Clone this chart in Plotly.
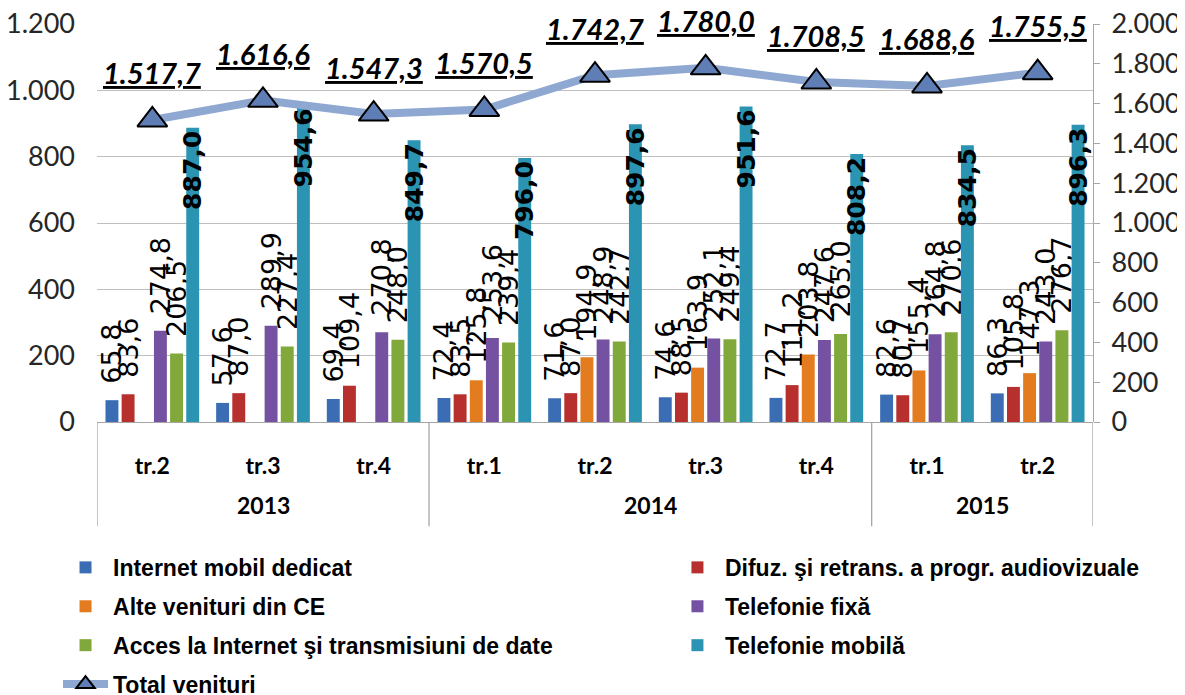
import plotly.graph_objects as go

years = ["2013", "2013", "2013", "2014", "2014", "2014", "2014", "2015", "2015"]
quarters = ["tr.2", "tr.3", "tr.4", "tr.1", "tr.2", "tr.3", "tr.4", "tr.1", "tr.2"]

internet_mobil = [65.8, 57.6, 69.4, 72.4, 71.6, 74.6, 72.7, 82.6, 86.3]
difuz = [83.6, 87.0, 109.4, 83.5, 87.0, 88.5, 111.2, 80.7, 105.8]
alte_venituri = [None, None, None, 125.8, 194.9, 163.9, 203.8, 155.4, 147.3]
telefonie_fixa = [274.8, 289.9, 270.8, 253.6, 248.9, 252.1, 247.6, 264.8, 243.0]
acces_internet = [206.5, 227.4, 248.0, 239.4, 242.7, 249.4, 265.0, 270.6, 276.7]
telefonie_mobila = [887.0, 954.6, 849.7, 796.0, 897.6, 951.6, 808.2, 834.5, 896.3]
total_venituri = [1517.7, 1616.6, 1547.3, 1570.5, 1742.7, 1780.0, 1708.5, 1688.6, 1755.5]

series_names = [
    "Internet mobil dedicat",
    "Difuz. şi retrans. a progr. audiovizuale",
    "Alte venituri din CE",
    "Telefonie fixă",
    "Acces la Internet şi transmisiuni de date",
    "Telefonie mobilă",
]
series_values = [internet_mobil, difuz, alte_venituri, telefonie_fixa, acces_internet, telefonie_mobila]
series_colors = ["#3B6DB4", "#B7302E", "#E27C1F", "#7451A1", "#80A83B", "#2A94B2"]
# legend column for each series (two-column legend as in the original)
series_legend = ["legend", "legend2", "legend", "legend2", "legend", "legend2"]


def ro(v):
    if v is None:
        return ""
    s = f"{v:,.1f}"
    return s.replace(",", "X").replace(".", ",").replace("X", ".")


keys = [f"{y} {q}" for y, q in zip(years, quarters)]

fig = go.Figure()
for name, vals, col, leg in zip(series_names, series_values, series_colors, series_legend):
    is_mob = name == "Telefonie mobilă"
    fig.add_trace(go.Bar(
        x=keys, y=vals, name=name, legend=leg, legendgroup=name,
        marker=dict(color=col, line=dict(width=0)),
        text=[ro(v) if is_mob else ("\u2002" + ro(v) if v is not None else "") for v in vals],
        textposition="inside" if is_mob else "outside",
        insidetextanchor="end",
        textangle=-90,
        constraintext="none",
        cliponaxis=False,
        insidetextfont=dict(family="DejaVu Sans", size=25, color="black", weight="bold"),
        outsidetextfont=dict(family="DejaVu Sans", size=27, color="black"),
        hoverinfo="skip",
    ))

fig.add_trace(go.Scatter(
    x=keys, y=total_venituri, name="Total venituri", yaxis="y2", legend="legend",
    legendgroup="Total venituri",
    mode="lines+markers",
    line=dict(color="#8EA8D2", width=8),
    marker=dict(symbol="triangle-up", size=26, color="#5F7EB6", line=dict(color="black", width=2)),
))

for k, v in zip(keys, total_venituri):
    fig.add_annotation(
        x=k, y=v, yref="y2", text=ro(v), showarrow=False, yshift=47,
        font=dict(family="Lato", size=29, color="black", weight="bold", style="italic",
                  lineposition="under"),
    )

# year group labels and dividers
groups = []
for i, y in enumerate(years):
    if not groups or groups[-1][0] != y:
        groups.append([y, i, i])
    else:
        groups[-1][2] = i
div_color = "#A6A6A6"
for y, a, b in groups:
    fig.add_annotation(x=(a + b) / 2, y=-0.209, yref="paper", yanchor="middle", text=y,
                       showarrow=False,
                       font=dict(family="Lato", size=23, color="black", weight="bold"))
    fig.add_shape(type="line", xref="x", yref="paper", x0=a - 0.5, x1=a - 0.5, y0=0, y1=-0.262,
                  line=dict(color=div_color, width=1.3))
fig.add_shape(type="line", xref="x", yref="paper", x0=len(keys) - 0.5, x1=len(keys) - 0.5,
              y0=0, y1=-0.262, line=dict(color=div_color, width=1.3))

legend_common = dict(
    orientation="v", xref="container", yref="container",
    xanchor="left", yanchor="top",
    font=dict(family="Liberation Sans", size=23, color="black", weight="bold"),
    itemwidth=45, traceorder="grouped", tracegroupgap=6,
    bgcolor="rgba(0,0,0,0)",
)

fig.update_layout(
    width=1177, height=687,
    margin=dict(l=89, r=92, t=16, b=273, autoexpand=False),
    paper_bgcolor="white", plot_bgcolor="white",
    barmode="group", bargap=0.124, bargroupgap=0.2,
    separators=",.",
    showlegend=True,
    legend=dict(x=0.0425, y=0.217, **legend_common),
    legend2=dict(x=0.5624, y=0.217, **legend_common),
    xaxis=dict(
        type="category", tickvals=keys, ticktext=quarters,
        tickfont=dict(family="Lato", size=23, color="black", weight="bold"),
        showgrid=False, showline=False, ticks="", ticklabelstandoff=28,
        range=[-0.5, len(keys) - 0.5], automargin=False,
    ),
    yaxis=dict(
        range=[0, 1200], dtick=200, tickformat=",.0f",
        showgrid=True, gridcolor="#BFBFBF", gridwidth=1,
        zeroline=True, zerolinecolor="#A6A6A6", zerolinewidth=1,
        showline=False, ticks="", ticklabelstandoff=21, automargin=False,
        ticklabeloverflow="allow",
        tickfont=dict(family="Lato", size=27, color="#262626"),
    ),
    yaxis2=dict(
        overlaying="y", side="right", range=[0, 2000], dtick=200, tickformat=",.0f",
        showgrid=False, zeroline=False, showline=True, linecolor=div_color, linewidth=1.3,
        ticks="outside", ticklen=6, tickcolor=div_color, automargin=False, ticklabelstandoff=6,
        ticklabeloverflow="allow",
        tickfont=dict(family="Lato", size=27, color="#262626"),
    ),
)

fig.write_html("out.html")
